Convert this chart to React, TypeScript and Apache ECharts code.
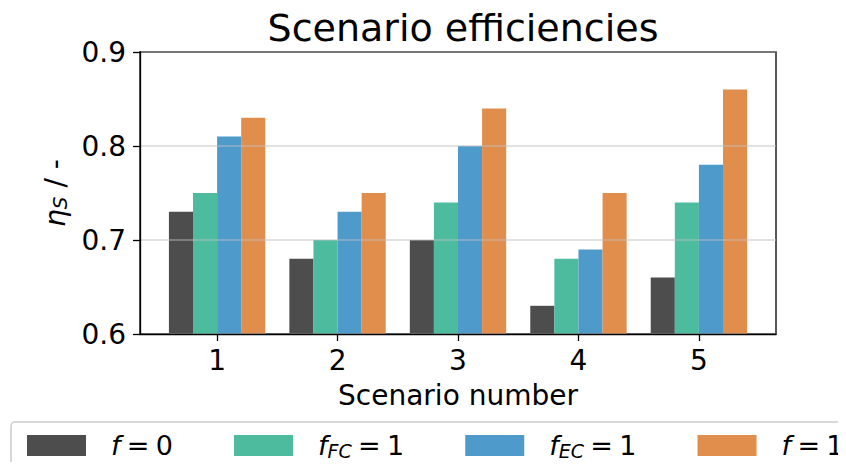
import React, { useEffect, useRef } from "react";
import * as echarts from "echarts";

// Scenario numbers on the x axis
const scenarios = [1, 2, 3, 4, 5];

// Efficiency per scenario for each configuration
const f0 = [0.73, 0.68, 0.7, 0.63, 0.66];
const fFC = [0.75, 0.7, 0.74, 0.68, 0.74];
const fEC = [0.81, 0.73, 0.8, 0.69, 0.78];
const f1 = [0.83, 0.75, 0.84, 0.75, 0.86];

const seriesNames = ["f = 0", "f_FC = 1", "f_EC = 1", "f = 1"];
const seriesSubs = ["", "FC", "EC", ""];
const seriesRhs = ["0", "1", "1", "1"];
const seriesValues = [f0, fFC, fEC, f1];
const seriesColors = ["#4d4d4d", "#4dbb9e", "#4e9bcb", "#e18d4c"];

const yTicks = [0.6, 0.7, 0.8, 0.9];

const FONT = "DejaVu Sans";

export default function App() {
  const ref = useRef<HTMLDivElement>(null);

  useEffect(() => {
    if (!ref.current) return;
    const chart = echarts.init(ref.current, null, { renderer: "svg" });

    const richBase = {
      i: { fontFamily: FONT, fontStyle: "italic", fontSize: 27, lineHeight: 30, color: "#000" },
      s: {
        fontFamily: FONT,
        fontStyle: "italic",
        fontSize: 19,
        lineHeight: 17,
        color: "#000",
        verticalAlign: "bottom",
      },
      t: { fontFamily: FONT, fontSize: 27, lineHeight: 30, color: "#000" },
      w: { fontFamily: FONT, fontSize: 20, lineHeight: 30, color: "#000" },
    };

    const legendLabel = (name: string) => {
      const k = seriesNames.indexOf(name);
      const sub = seriesSubs[k] ? `{s|${seriesSubs[k]}}` : "";
      return `{i|f}${sub}{w| }{t|=}{w| }{t|${seriesRhs[k]}}`;
    };

    chart.setOption({
      animation: false,
      backgroundColor: "#fff",
      title: {
        text: "Scenario efficiencies",
        left: 458,
        textAlign: "center",
        top: 4,
        textStyle: { fontFamily: FONT, fontSize: 38, fontWeight: "normal", color: "#000" },
      },
      graphic: [
        {
          type: "rect",
          z: -1,
          shape: { x: 11, y: 422, width: 860, height: 45, r: 4 },
          style: { fill: "#fff", stroke: "#cccccc", lineWidth: 1.5 },
        },
      ],
      legend: {
        left: 22,
        top: 427,
        width: 1000,
        itemWidth: 59,
        itemHeight: 21,
        itemGap: 61,
        icon: "rect",
        data: seriesNames,
        formatter: legendLabel,
        textStyle: {
          padding: [0, 0, 0, 20],
          rich: richBase,
        },
      },
      grid: {
        left: 140,
        right: 70,
        top: 52,
        bottom: 136,
        show: true,
        borderColor: "#000",
        borderWidth: 1.3,
        backgroundColor: "transparent",
      },
      xAxis: {
        type: "value",
        min: 0.36,
        max: 5.64,
        z: 3,
        name: "Scenario number",
        nameLocation: "middle",
        nameGap: 47,
        nameTextStyle: { fontFamily: FONT, fontSize: 28, color: "#000" },
        axisLine: { show: true, lineStyle: { color: "#000", width: 1.3 } },
        axisTick: {
          show: true,
          length: 7,
          customValues: scenarios,
          lineStyle: { color: "#000", width: 1.3 },
        },
        axisLabel: {
          customValues: scenarios,
          margin: 12,
          fontFamily: FONT,
          fontSize: 28,
          color: "#000",
          formatter: (v: number) => String(v),
        },
        splitLine: { show: false },
      },
      yAxis: {
        type: "value",
        min: 0.6,
        max: 0.9,
        interval: 0.1,
        z: 3,
        name: "{e|η}{s|S}{t| / -}",
        nameLocation: "middle",
        nameRotate: 90,
        nameGap: 70,
        nameTextStyle: {
          rich: {
            e: { fontFamily: FONT, fontStyle: "italic", fontSize: 28, lineHeight: 30, color: "#000" },
            s: {
              fontFamily: FONT,
              fontStyle: "italic",
              fontSize: 20,
              lineHeight: 20,
              color: "#000",
              verticalAlign: "bottom",
            },
            t: { fontFamily: FONT, fontSize: 28, lineHeight: 30, color: "#000" },
          },
        },
        axisLine: { show: true, lineStyle: { color: "#000", width: 1.3 } },
        axisTick: { show: true, length: 7, lineStyle: { color: "#000", width: 1.3 } },
        axisLabel: {
          margin: 14,
          fontFamily: FONT,
          fontSize: 28,
          color: "#000",
          formatter: (v: number) => {
            const hit = yTicks.find((t) => Math.abs(t - v) < 1e-9);
            return hit !== undefined ? hit.toFixed(1) : "";
          },
        },
        splitLine: { show: true, lineStyle: { color: "rgba(190,190,190,0.6)", width: 1.5 } },
      },
      series: seriesNames.map((name, k) => ({
        name,
        type: "bar",
        barWidth: "20%",
        barGap: "0%",
        itemStyle: { color: seriesColors[k] },
        data: scenarios.map((s, i) => [s, seriesValues[k][i]]),
      })),
    });

    return () => chart.dispose();
  }, []);

  return <div ref={ref} style={{ width: 846, height: 470, margin: -8 }} />;
}
